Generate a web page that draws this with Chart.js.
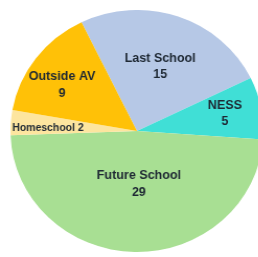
<!DOCTYPE html>
<html>
<head>
<meta charset="utf-8">
<script src="https://cdn.jsdelivr.net/npm/chart.js@4"></script>
<style>
html,body{margin:0;padding:0;background:#fff;overflow:hidden;width:258px;height:257px;}
#wrap{position:absolute;left:0;top:10px;width:262px;height:242px;transform:scaleX(1.0455);transform-origin:0 0;}
</style>
</head>
<body>
<div id="wrap"><canvas id="c"></canvas></div>
<script>
const categories = ["Last School", "NESS", "Future School", "Homeschool", "Outside AV"];
const values = [15, 5, 29, 2, 9];
const colors = ["#b6c8e6", "#40dfd6", "#a8df93", "#fde59f", "#ffc107"];

const labelPlugin = {
  id: 'sliceLabels',
  afterDatasetsDraw(chart, args, opts) {
    const ctx = chart.ctx;
    const meta = chart.getDatasetMeta(0);
    ctx.save();
    ctx.fillStyle = opts.color;
    ctx.textAlign = 'center';
    ctx.textBaseline = 'middle';
    meta.data.forEach((arc, i) => {
      const p = arc.getProps(['x','y','startAngle','endAngle','outerRadius'], true);
      const mid = (p.startAngle + p.endAngle) / 2 + (opts.angleShift[i] || 0) * Math.PI / 180;
      const r = p.outerRadius * opts.radius[i];
      const cx = p.x + Math.cos(mid) * r;
      const cy = p.y + Math.sin(mid) * r;
      const name = categories[i];
      const val = String(values[i]);
      if (opts.singleLine[i]) {
        ctx.font = opts.smallFont;
        ctx.fillText(name + ' ' + val, cx, cy);
      } else {
        ctx.font = opts.font;
        const lh = opts.lineHeight;
        ctx.fillText(name, cx, cy - lh / 2);
        ctx.fillText(val, cx, cy + lh / 2);
      }
    });
    ctx.restore();
  }
};

new Chart(document.getElementById('c'), {
  type: 'pie',
  data: {
    labels: categories,
    datasets: [{
      data: values,
      backgroundColor: colors,
      borderWidth: 0
    }]
  },
  options: {
    responsive: true,
    maintainAspectRatio: false,
    animation: false,
    rotation: -26,
    layout: { padding: 0 },
    plugins: {
      legend: { display: false },
      tooltip: { enabled: false },
      sliceLabels: {
        font: 'bold 12px "Liberation Sans", Arial, sans-serif',
        smallFont: 'bold 10px "Liberation Sans", Arial, sans-serif',
        color: '#1e2833',
        lineHeight: 16.5,
        radius: [0.563, 0.71, 0.438, 0.704, 0.704],
        angleShift: [0, -0.7, -3, -2, -4.3],
        singleLine: [false, false, false, true, false]
      }
    }
  },
  plugins: [labelPlugin]
});
</script>
</body>
</html>
